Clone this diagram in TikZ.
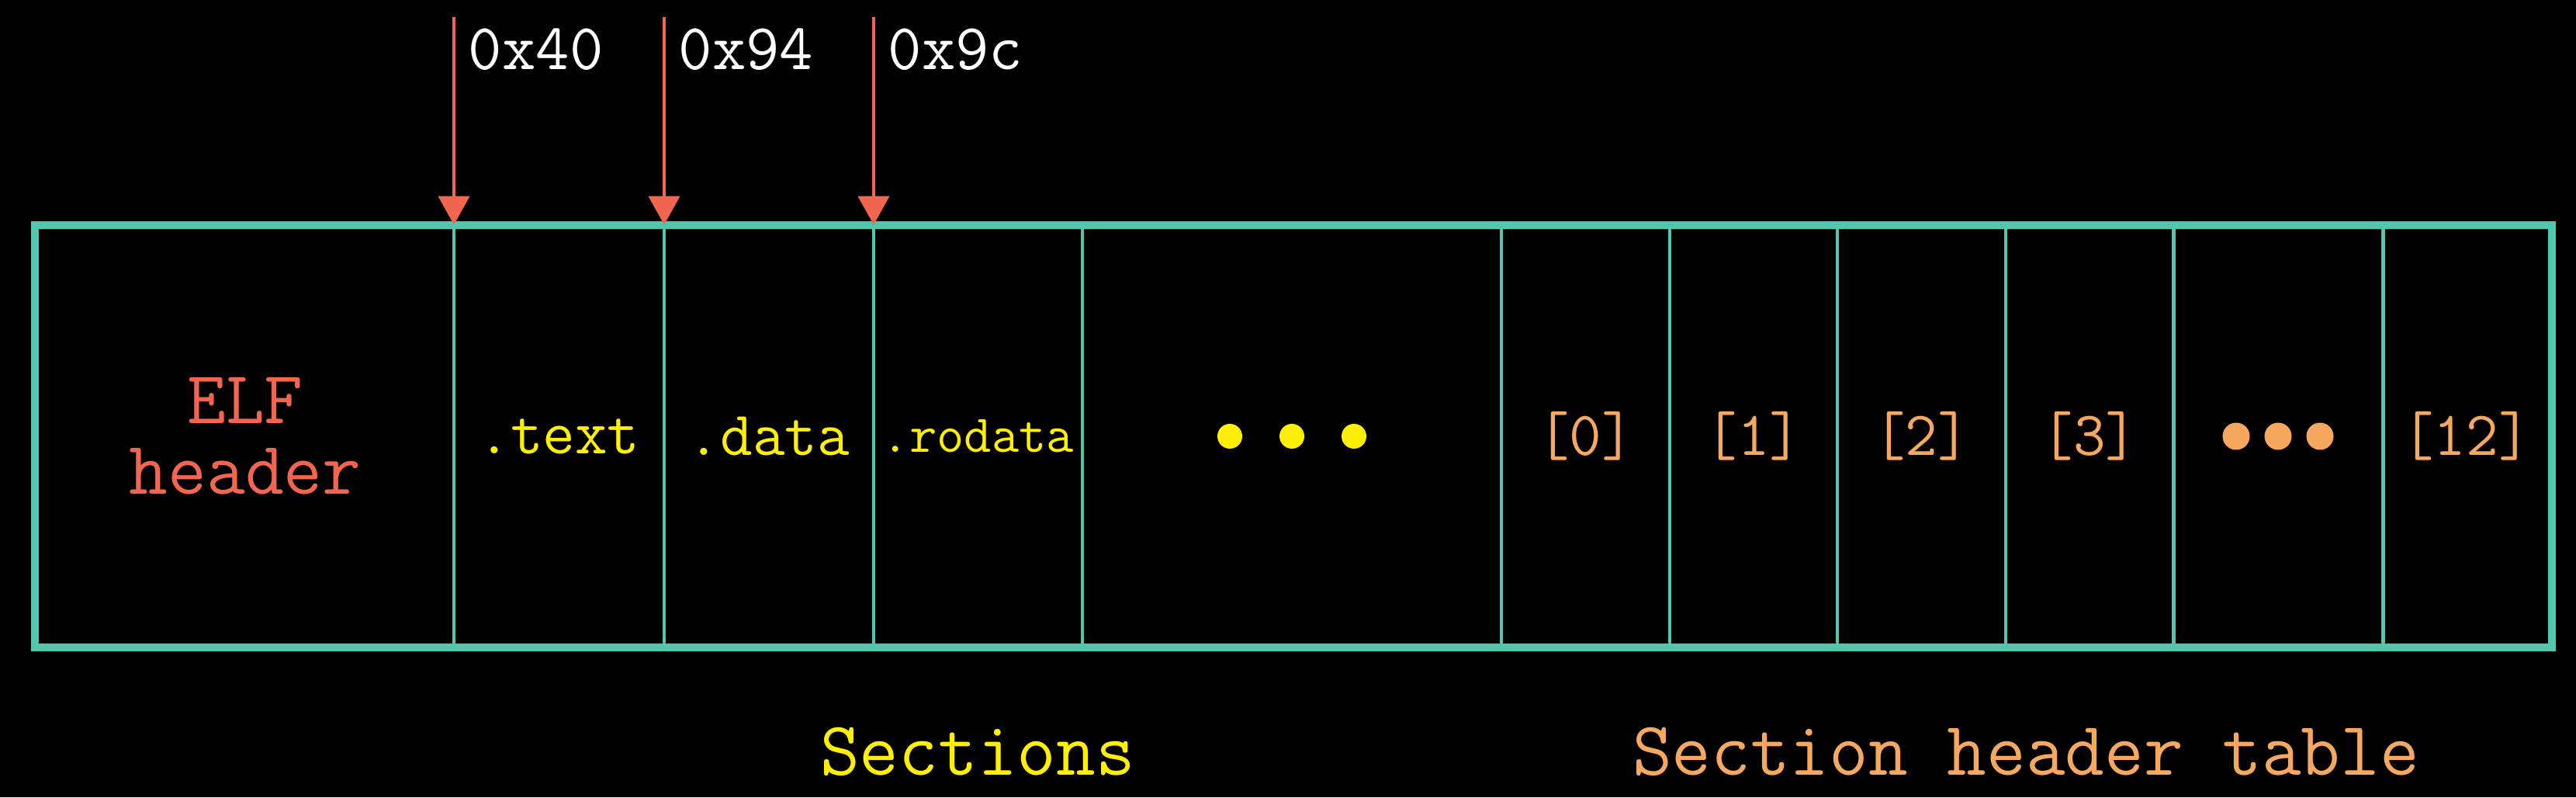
\documentclass[tikz,border=0pt]{standalone}
\usetikzlibrary{arrows.meta}

\definecolor{boxteal}{HTML}{50C8AE}
\definecolor{ptrred}{HTML}{F2664F}
\definecolor{secyellow}{HTML}{FFF000}
\definecolor{shorange}{HTML}{F5A85E}

\tikzset{
	cell/.style={draw=boxteal, line width=1.4pt, minimum height=5.4cm, inner sep=0pt},
	frame/.style={draw=boxteal, line width=2.85pt},
	ptr/.style={-{Triangle[width=0.4cm, length=0.37cm]}, line width=1.3pt, color=ptrred},
	addr/.style={inner sep=0pt, text=white, font=\fontsize{24}{24}\selectfont\ttfamily},
	sec/.style={text=secyellow, font=\fontsize{23}{23}\selectfont\ttfamily},
	shdr/.style={text=shorange, font=\fontsize{23}{23}\selectfont\ttfamily},
}

\begin{document}
\begin{tikzpicture}
	\fill[black] (0,0) rectangle (33.2,10.27);
	\useasboundingbox (0,0) rectangle (33.2,10.27);

	% file layout
	\node[cell, minimum width=5.38cm, align=center, text=ptrred, font=\fontsize{27.5}{26}\selectfont\ttfamily](hdr) at (3.16,4.65){ELF\\header};
	\node[cell, sec, minimum width=2.71cm](txt) at (7.205,4.65){.text};
	\node[cell, sec, minimum width=2.70cm](dat) at (9.91,4.65){.data};
	\node[cell, sec, minimum width=2.69cm, font=\fontsize{19.5}{19.5}\selectfont\ttfamily](rod) at (12.605,4.65){.rodata};
	\node[cell, minimum width=5.40cm](more) at (16.65,4.65){};

	\node[cell, shdr, minimum width=2.17cm](s0) at (20.435,4.65){[0]};
	\node[cell, shdr, minimum width=2.16cm](s1) at (22.60,4.65){[1]};
	\node[cell, shdr, minimum width=2.17cm](s2) at (24.765,4.65){[2]};
	\node[cell, shdr, minimum width=2.16cm](s3) at (26.93,4.65){[3]};
	\node[cell, minimum width=2.70cm](sdots) at (29.36,4.65){};
	\node[cell, shdr, minimum width=2.15cm](s12) at (31.785,4.65){[12]};

	\draw[frame] (hdr.north west) rectangle (s12.south east);

	\foreach \dx in {-0.8,0,0.8}
		\fill[secyellow] ([xshift=\dx cm]more.center) circle (0.16);
	\foreach \dx in {-0.54,0,0.54}
		\fill[shorange] ([xshift=\dx cm]sdots.center) circle (0.175);

	% offsets
	\coordinate (p40) at (5.85,10.05);
	\coordinate (p94) at (8.56,10.05);
	\coordinate (p9c) at (11.26,10.05);
	\draw[ptr] (p40) -- (p40 |- txt.north);
	\draw[ptr] (p94) -- (p94 |- dat.north);
	\draw[ptr] (p9c) -- (p9c |- rod.north);
	\node[addr, anchor=base west](l40) at ([xshift=0.18cm, yshift=-0.68cm]p40){0x40};
	\node[addr, anchor=base west](l94) at ([xshift=0.18cm, yshift=-0.68cm]p94){0x94};
	\node[addr, anchor=base west](l9c) at ([xshift=0.18cm, yshift=-0.68cm]p9c){0x9c};

	\node[text=secyellow, anchor=base, font=\fontsize{28}{28}\selectfont\ttfamily](secs) at (12.60,0.29){Sections};
	\node[text=shorange, anchor=base, font=\fontsize{28}{28}\selectfont\ttfamily](shtab) at (26.11,0.29){Section header table};

\end{tikzpicture}
\end{document}
